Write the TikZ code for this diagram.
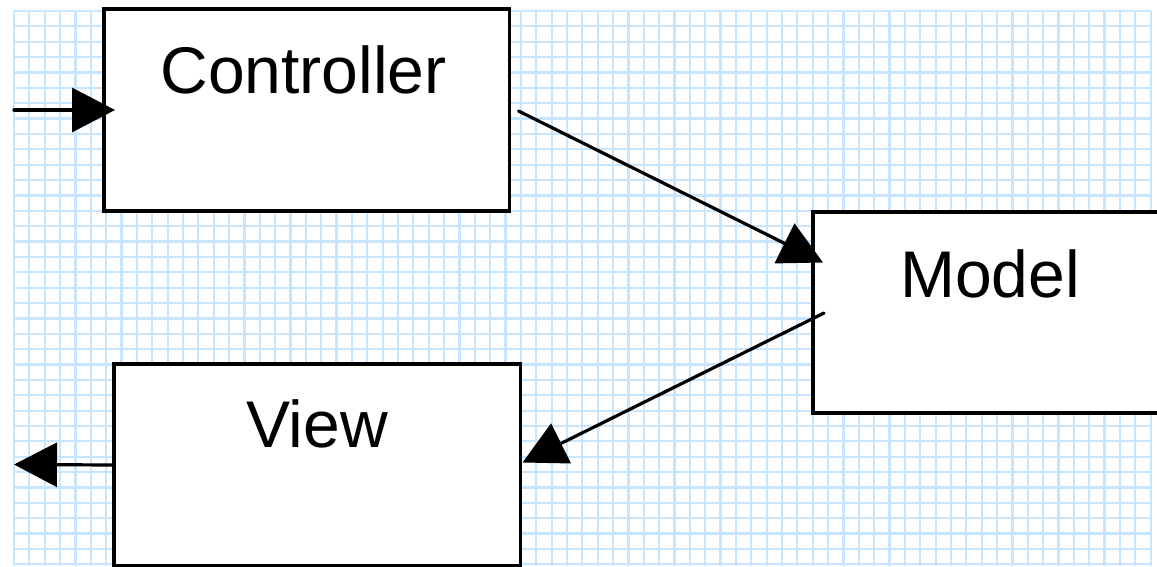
\documentclass[tikz,border=0pt]{standalone}
\usepackage{fontspec}
\setmainfont{Liberation Sans}
\usetikzlibrary{arrows.meta,calc}
\definecolor{gridblue}{RGB}{200,229,255}
\tikzset{
  box/.style={draw=black, line width=3.6pt, fill=white, rectangle, inner sep=0pt, outer sep=0pt},
  lbl/.style={font=\fontsize{66}{79}\selectfont, anchor=base, inner sep=0pt, outer sep=0pt},
  conn/.style={line width=3.2pt, line cap=round, -{Triangle[length=43pt,width=44pt]}},
  gridline/.style={gridblue, line width=2.2pt},
}
\begin{document}
\begin{tikzpicture}[x=1pt,y=-1pt]
\clip (0,0) rectangle (1157,566);
\fill[white] (0,0) rectangle (1157,566);
% grid
\foreach \i in {0,...,74} \draw[gridline] (14+\i*15.36,11) -- (14+\i*15.36,566);
\foreach \j in {0,...,36} \draw[gridline] (14,11+\j*15.37) -- (1151,11+\j*15.37);
% boxes
\node[box, minimum width=405.5pt, minimum height=202pt] (ctrl) at (306.8,110) {};
\node[box, minimum width=406pt, minimum height=201pt] (model) at (1016,312.5) {};
\node[box, minimum width=406.5pt, minimum height=202pt] (view) at (317.3,465) {};
% labels
\node[lbl] (ctrltext) at (303.5,93.3) {Controller};
\node[lbl] (modeltext) at (990,297) {Model};
\node[lbl] (viewtext) at (317,447.3) {View};
% connectors
\coordinate (inp) at (14,110);
\coordinate (outp) at (14,464.5);
\draw[conn] (inp) -- ([xshift=11pt]ctrl.west);
\draw[conn] ([shift={(9pt,-1pt)}]ctrl.east) -- ([shift={(10pt,50pt)}]model.west);
\draw[conn] ([shift={(11pt,-0.5pt)}]model.west) -- ([shift={(2pt,2.5pt)}]view.east);
\draw[conn] (view.west) -- (outp);
\end{tikzpicture}
\end{document}
